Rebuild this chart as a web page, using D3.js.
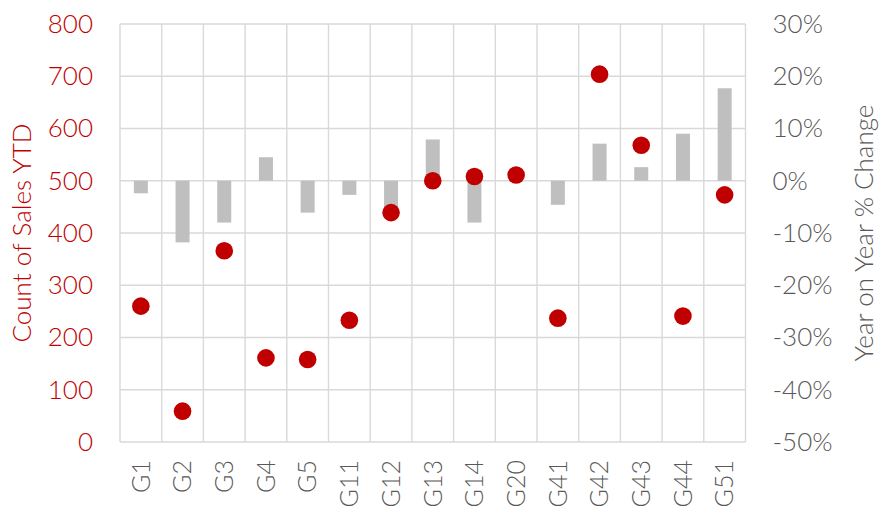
<!DOCTYPE html>
<html>
<head>
<meta charset="utf-8">
<script src="https://cdn.jsdelivr.net/npm/d3@7"></script>
<style>
  html, body { margin: 0; padding: 0; background: #fff; }
  svg { display: block; font-family: Lato, "Open Sans", sans-serif; font-weight: 300; }
</style>
</head>
<body>
<svg id="chart" width="880" height="510"></svg>
<script>
// Sales groups
const categories = ["G1","G2","G3","G4","G5","G11","G12","G13","G14","G20","G41","G42","G43","G44","G51"];
// Count of sales year to date (left axis, dots)
const salesYTD = [260, 59, 366, 161, 158, 233, 439, 500, 508, 511, 237, 704, 568, 241, 473];
// Year on year % change (right axis, bars)
const yoyChange = [-2.4, -11.8, -8.0, 4.5, -6.1, -2.7, -5.5, 7.9, -8.0, 0.5, -4.6, 7.1, 2.6, 9.0, 17.7];
const leftTicks = [0, 100, 200, 300, 400, 500, 600, 700, 800];
const rightTicks = [-50, -40, -30, -20, -10, 0, 10, 20, 30];

const W = 880, H = 510;
const m = { left: 120, right: 134.5, top: 24, bottom: 68 };
const svg = d3.select("#chart");
const innerW = W - m.left - m.right, innerH = H - m.top - m.bottom;
const g = svg.append("g").attr("transform", `translate(${m.left},${m.top})`);

const x = d3.scaleBand().domain(categories).range([0, innerW]).padding(0);
const yL = d3.scaleLinear().domain([0, 800]).range([innerH, 0]);
const yR = d3.scaleLinear().domain([-50, 30]).range([innerH, 0]);

const red = "#C00000", grey = "#595959", gridCol = "#d9d9d9", barCol = "#bfbfbf";

// horizontal grid
g.append("g").selectAll("line").data(leftTicks).join("line")
  .attr("x1", 0).attr("x2", innerW)
  .attr("y1", d => yL(d)).attr("y2", d => yL(d))
  .attr("stroke", gridCol).attr("stroke-width", 1.4);
// vertical grid at category boundaries
const bounds = categories.map(c => x(c)).concat([innerW]);
g.append("g").selectAll("line").data(bounds).join("line")
  .attr("x1", d => d).attr("x2", d => d)
  .attr("y1", 0).attr("y2", innerH)
  .attr("stroke", gridCol).attr("stroke-width", 1.4);

// bars
const barW = 14;
g.append("g").selectAll("rect").data(categories).join("rect")
  .attr("x", (c) => x(c) + x.bandwidth() / 2 - barW / 2)
  .attr("width", barW)
  .attr("y", (c, i) => Math.min(yR(yoyChange[i]), yR(0)))
  .attr("height", (c, i) => Math.abs(yR(yoyChange[i]) - yR(0)))
  .attr("fill", barCol);

// dots
g.append("g").selectAll("circle").data(categories).join("circle")
  .attr("cx", c => x(c) + x.bandwidth() / 2)
  .attr("cy", (c, i) => yL(salesYTD[i]))
  .attr("r", 8.8)
  .attr("fill", red);

// left axis
const axL = g.append("g").call(d3.axisLeft(yL).tickValues(leftTicks).tickSize(0).tickPadding(27));
axL.select(".domain").remove();
axL.selectAll("text").attr("fill", red).style("font-size", "26px").style("font-family", "Lato, sans-serif").style("font-weight", 300);

// right axis
const axR = g.append("g").attr("transform", `translate(${innerW},0)`)
  .call(d3.axisRight(yR).tickValues(rightTicks).tickSize(0).tickPadding(27).tickFormat(d => d + "%"));
axR.select(".domain").remove();
axR.selectAll("text").attr("fill", grey).style("font-size", "26px").style("font-family", "Lato, sans-serif").style("font-weight", 300);

// x axis labels
const axX = g.append("g").attr("transform", `translate(0,${innerH})`)
  .call(d3.axisBottom(x).tickSize(0).tickPadding(0));
axX.select(".domain").remove();
axX.selectAll("text")
  .attr("fill", grey).style("font-size", "25px").style("font-family", "Lato, sans-serif").style("font-weight", 300)
  .attr("transform", "rotate(-90)")
  .attr("text-anchor", "end")
  .attr("x", -18).attr("y", 0).attr("dy", "0.35em");

// axis titles
svg.append("text")
  .attr("transform", `translate(31,${m.top + innerH / 2}) rotate(-90)`)
  .attr("text-anchor", "middle")
  .attr("fill", red).style("font-size", "26px")
  .text("Count of Sales YTD");
svg.append("text")
  .attr("transform", `translate(873,${m.top + innerH / 2}) rotate(-90)`)
  .attr("text-anchor", "middle")
  .attr("fill", grey).style("font-size", "26px")
  .text("Year on Year % Change");
</script>
</body>
</html>
